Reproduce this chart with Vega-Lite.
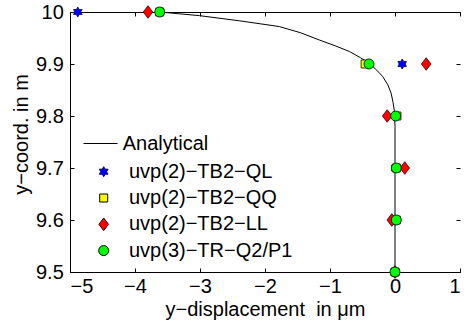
{
  "$schema": "https://vega.github.io/schema/vega-lite/v6.json",
  "width": 390,
  "height": 260,
  "autosize": "none",
  "padding": {"left": 70, "top": 12, "right": 7, "bottom": 55},
  "config": {
    "view": {"stroke": null},
    "font": "Liberation Sans",
    "axis": {
      "grid": false,
      "domainColor": "black",
      "domainWidth": 1,
      "tickColor": "black",
      "tickWidth": 1,
      "tickSize": -4,
      "labelColor": "black",
      "labelFontSize": 20,
      "labelFont": "Liberation Sans",
      "titleFont": "Liberation Sans",
      "titleFontSize": 20,
      "titleFontWeight": "normal",
      "titleColor": "black"
    },
    "legend": {
      "labelFont": "Liberation Sans",
      "labelFontSize": 20,
      "labelColor": "black",
      "labelLimit": 0,
      "symbolStrokeWidth": 1,
      "padding": 0
    }
  },
  "datasets": {
    "curve": [
      {"series": "Analytical", "x": -3.62, "y": 10.0},
      {"series": "Analytical", "x": -3.01, "y": 9.993},
      {"series": "Analytical", "x": -2.39, "y": 9.983},
      {"series": "Analytical", "x": -1.78, "y": 9.972},
      {"series": "Analytical", "x": -1.45, "y": 9.96},
      {"series": "Analytical", "x": -1.16, "y": 9.946},
      {"series": "Analytical", "x": -0.92, "y": 9.935},
      {"series": "Analytical", "x": -0.70, "y": 9.924},
      {"series": "Analytical", "x": -0.53, "y": 9.912},
      {"series": "Analytical", "x": -0.39, "y": 9.901},
      {"series": "Analytical", "x": -0.28, "y": 9.888},
      {"series": "Analytical", "x": -0.19, "y": 9.876},
      {"series": "Analytical", "x": -0.11, "y": 9.86},
      {"series": "Analytical", "x": -0.06, "y": 9.844},
      {"series": "Analytical", "x": -0.03, "y": 9.826},
      {"series": "Analytical", "x": -0.01, "y": 9.81},
      {"series": "Analytical", "x": 0.0, "y": 9.78},
      {"series": "Analytical", "x": 0.0, "y": 9.5}
    ],
    "pts": [
      {"series": "uvp(2)−TB2−QL", "x": -4.88, "y": 10.0},
      {"series": "uvp(2)−TB2−QL", "x": 0.11, "y": 9.9},
      {"series": "uvp(2)−TB2−QL", "x": 0.01, "y": 9.8},
      {"series": "uvp(2)−TB2−QL", "x": 0.01, "y": 9.7},
      {"series": "uvp(2)−TB2−QL", "x": 0.01, "y": 9.6},
      {"series": "uvp(2)−TB2−QL", "x": 0.0, "y": 9.5},
      {"series": "uvp(2)−TB2−QQ", "x": -3.62, "y": 10.0},
      {"series": "uvp(2)−TB2−QQ", "x": -0.46, "y": 9.9},
      {"series": "uvp(2)−TB2−QQ", "x": 0.03, "y": 9.8},
      {"series": "uvp(2)−TB2−QQ", "x": 0.02, "y": 9.7},
      {"series": "uvp(2)−TB2−QQ", "x": 0.02, "y": 9.6},
      {"series": "uvp(2)−TB2−QQ", "x": 0.0, "y": 9.5},
      {"series": "uvp(2)−TB2−LL", "x": -3.8, "y": 10.0},
      {"series": "uvp(2)−TB2−LL", "x": 0.48, "y": 9.9},
      {"series": "uvp(2)−TB2−LL", "x": -0.12, "y": 9.8},
      {"series": "uvp(2)−TB2−LL", "x": 0.15, "y": 9.7},
      {"series": "uvp(2)−TB2−LL", "x": -0.05, "y": 9.6},
      {"series": "uvp(2)−TB2−LL", "x": 0.0, "y": 9.5},
      {"series": "uvp(3)−TR−Q2/P1", "x": -3.62, "y": 10.0},
      {"series": "uvp(3)−TR−Q2/P1", "x": -0.4, "y": 9.9},
      {"series": "uvp(3)−TR−Q2/P1", "x": 0.01, "y": 9.8},
      {"series": "uvp(3)−TR−Q2/P1", "x": 0.02, "y": 9.7},
      {"series": "uvp(3)−TR−Q2/P1", "x": 0.02, "y": 9.6},
      {"series": "uvp(3)−TR−Q2/P1", "x": 0.0, "y": 9.5}
    ]
  },
  "resolve": {"axis": {"x": "independent", "y": "independent"}},
  "layer": [
    {
      "data": {"name": "curve"},
      "mark": {"type": "line", "strokeWidth": 1, "clip": false},
      "encoding": {
        "x": {"field": "x", "type": "quantitative",
          "scale": {"domain": [-5, 1], "nice": false, "zero": false},
          "axis": {"orient": "bottom", "values": [-5, -4, -3, -2, -1, 0, 1], "title": "y−displacement\u00a0 in μm", "labelPadding": 8, "titleY": 43.5, "titleBaseline": "alphabetic"}},
        "y": {"field": "y", "type": "quantitative",
          "scale": {"domain": [9.5, 10], "nice": false, "zero": false},
          "axis": {"orient": "left", "values": [9.5, 9.6, 9.7, 9.8, 9.9, 10], "format": ".1~f", "title": "y−coord. in m", "labelPadding": 10.7, "titleX": -43, "titleY": 122, "titleAngle": -90, "titleBaseline": "alphabetic", "titleAlign": "center"}},
        "color": {"field": "series", "type": "nominal", "title": null,
          "scale": {"domain": ["Analytical"], "range": ["black"]},
          "legend": {"orient": "none", "legendX": 13, "legendY": 114, "title": null,
                     "symbolType": "stroke", "symbolSize": 1156, "symbolStrokeWidth": 1, "labelOffset": 4.7}},
        "order": {"field": "y", "sort": "descending"}
      }
    },
    {
      "data": {"name": "pts"},
      "mark": {"type": "point", "filled": true, "opacity": 1, "strokeWidth": 0.8},
      "encoding": {
        "x": {"field": "x", "type": "quantitative",
          "axis": {"orient": "top", "values": [-5, -4, -3, -2, -1, 0, 1], "labels": false, "title": null}},
        "y": {"field": "y", "type": "quantitative",
          "axis": {"orient": "right", "values": [9.5, 9.6, 9.7, 9.8, 9.9, 10], "labels": false, "domain": false, "title": null}},
        "stroke": {"field": "series", "type": "nominal", "title": null,
          "scale": {"domain": ["uvp(2)−TB2−QL", "uvp(2)−TB2−QQ", "uvp(2)−TB2−LL", "uvp(3)−TR−Q2/P1"],
                    "range": ["#000066", "black", "#330000", "black"]},
          "legend": {"orient": "none", "legendX": 23.7, "legendY": 149.7, "title": null, "rowPadding": 6.3, "labelOffset": 15.3}},
        "fill": {"field": "series", "type": "nominal", "title": null,
          "scale": {"domain": ["uvp(2)−TB2−QL", "uvp(2)−TB2−QQ", "uvp(2)−TB2−LL", "uvp(3)−TR−Q2/P1"],
                    "range": ["#0000ff", "#ffff00", "#ff0000", "#00ff00"]},
          "legend": {"orient": "none", "legendX": 23.7, "legendY": 149.7, "title": null, "rowPadding": 6.3, "labelOffset": 15.3}},
        "shape": {"field": "series", "type": "nominal", "title": null,
          "scale": {"domain": ["uvp(2)−TB2−QL", "uvp(2)−TB2−QQ", "uvp(2)−TB2−LL", "uvp(3)−TR−Q2/P1"],
                    "range": ["M0,-1L0.2887,-0.5L0.866,-0.5L0.5774,0L0.866,0.5L0.2887,0.5L0,1L-0.2887,0.5L-0.866,0.5L-0.5774,0L-0.866,-0.5L-0.2887,-0.5Z", "square", "M0,-1L0.75,0L0,1L-0.75,0Z", "circle"]},
          "legend": {"orient": "none", "legendX": 23.7, "legendY": 149.7, "title": null, "rowPadding": 6.3, "labelOffset": 15.3}},
        "size": {"field": "series", "type": "nominal", "title": null,
          "scale": {"type": "ordinal", "domain": ["uvp(2)−TB2−QL", "uvp(2)−TB2−QQ", "uvp(2)−TB2−LL", "uvp(3)−TR−Q2/P1"],
                    "range": [100, 64, 160, 100]},
          "legend": {"orient": "none", "legendX": 23.7, "legendY": 149.7, "title": null, "rowPadding": 6.3, "labelOffset": 15.3}}
      }
    }
  ]
}
